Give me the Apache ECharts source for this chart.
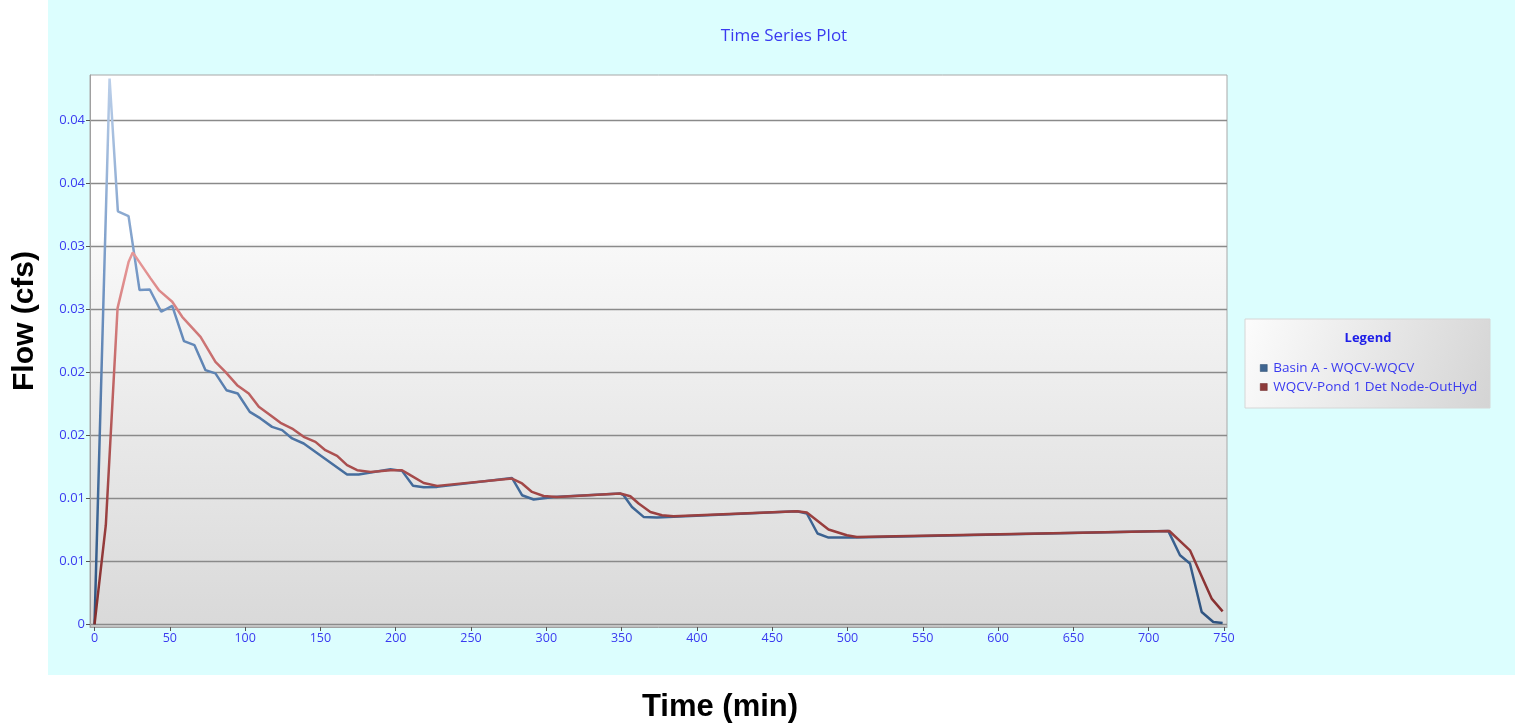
<!DOCTYPE html>
<html>
<head>
<meta charset="utf-8">
<script src="https://cdn.jsdelivr.net/npm/echarts@6/dist/echarts.min.js"></script>
<style>
html,body{margin:0;padding:0;background:#ffffff;}
#chart{width:1520px;height:727px;}
</style>
</head>
<body>
<div id="chart"></div>
<script>
// ---- data ----
const seriesNames = ['Basin A - WQCV-WQCV', 'WQCV-Pond 1 Det Node-OutHyd'];

const basinTime = [0, 10, 15.5, 22.6, 29.9, 36.7, 44.3, 51.6, 59.4, 66.4,
  73.7, 80.3, 87.6, 95.1, 103.1, 110.2, 117.9, 124.6, 131.2, 138.9,
  167.7, 175.4, 196.5, 204.2, 211.5, 218.6, 227.5, 277.2, 283.9, 291.6,
  304.9, 349.1, 351.3, 356.9, 364.6, 373.5, 466.4, 473.0, 480.1, 487.4,
  504.0, 713.0, 720.8, 727.4, 735.2, 742.9, 749.1];
const basinFlow = [0, 0.04329, 0.03276, 0.03238, 0.02651, 0.02656, 0.02479, 0.02526, 0.02246, 0.02214,
  0.02016, 0.01990, 0.01857, 0.01831, 0.01685, 0.01633, 0.01566, 0.01540, 0.01474, 0.01434,
  0.01189, 0.01189, 0.01229, 0.01217, 0.01099, 0.01087, 0.01090, 0.01161, 0.01024, 0.00990,
  0.01010, 0.01037, 0.01024, 0.00931, 0.00852, 0.00847, 0.00897, 0.00879, 0.00720, 0.00688,
  0.00688, 0.00741, 0.00548, 0.00482, 0.00098, 0.00018, 0.00010];

const pondTime = [0, 7.5, 15.3, 22.6, 25.4, 37.2, 42.7, 51.6, 58.2, 70.4,
  80.3, 86.9, 94.7, 102.4, 109.1, 116.8, 123.5, 131.2, 138.9, 146.7,
  153.3, 161.1, 167.7, 174.4, 183.2, 196.5, 204.2, 209.7, 218.6, 227.5,
  277.2, 283.9, 290.5, 298.2, 307.1, 349.1, 355.8, 361.3, 369.1, 376.8,
  384.5, 466.4, 473.0, 487.4, 499.6, 506.2, 713.7, 727.4, 741.8, 749.1];
const pondFlow = [0, 0.00786, 0.02508, 0.02873, 0.02950, 0.02744, 0.02651, 0.02558, 0.02439, 0.02280,
  0.02082, 0.02002, 0.01897, 0.01831, 0.01725, 0.01659, 0.01598, 0.01553, 0.01487, 0.01447,
  0.01381, 0.01336, 0.01262, 0.01222, 0.01209, 0.01222, 0.01222, 0.01183, 0.01121, 0.01098,
  0.01156, 0.01117, 0.01050, 0.01018, 0.01010, 0.01037, 0.01016, 0.00958, 0.00891, 0.00865,
  0.00857, 0.00897, 0.00887, 0.00752, 0.00706, 0.00693, 0.00740, 0.00587, 0.00204, 0.00103];

const xTicks = [0, 50, 100, 150, 200, 250, 300, 350, 400, 450, 500, 550, 600, 650, 700, 750];
const yTicks = [0, 0.005, 0.01, 0.015, 0.02, 0.025, 0.03, 0.035, 0.04];
const yTickLabels = ['0', '0.01', '0.01', '0.02', '0.02', '0.03', '0.03', '0.04', '0.04'];

const titleText = 'Time Series Plot';
const xTitle = 'Time (min)';
const yTitle = 'Flow (cfs)';
const legendTitle = 'Legend';

// ---- chart ----
const chart = echarts.init(document.getElementById('chart'), null, {renderer: 'canvas'});
const G = echarts.graphic;
const blueLine = new G.LinearGradient(0, 75, 0, 624, [
  {offset: 0, color: '#bcd0ea'}, {offset: 0.4, color: '#6f93c2'},
  {offset: 0.75, color: '#426a9a'}, {offset: 1, color: '#2e5380'}], true);
const redLine = new G.LinearGradient(0, 75, 0, 624, [
  {offset: 0, color: '#f5b5b5'}, {offset: 0.35, color: '#e49494'},
  {offset: 0.55, color: '#c26666'}, {offset: 0.8, color: '#9a4040'}, {offset: 1, color: '#842e2e'}], true);

const labelColor = '#3a3af0';
const zip = (a, b) => a.map((t, i) => [t, b[i]]);

chart.setOption({
  backgroundColor: '#ffffff',
  animation: false,
  graphic: [
    {type: 'rect', z: -10, silent: true, shape: {x: 48, y: 0, width: 1467, height: 675}, style: {fill: '#dcfefe'}},
    {type: 'text', z: 2, silent: true, x: 784, y: 36,
      style: {text: titleText, fill: labelColor, font: '17px "Open Sans"', align: 'center', verticalAlign: 'middle'}},
    {type: 'rect', z: 1, silent: true, shape: {x: 1245, y: 319, width: 245, height: 89},
      style: {fill: new G.LinearGradient(0, 0, 1, 1, [{offset: 0, color: '#fcfcfc'}, {offset: 1, color: '#d4d4d4'}]), stroke: '#d6d6d6', lineWidth: 1}},
    {type: 'text', z: 2, silent: true, x: 1368, y: 338,
      style: {text: legendTitle, fill: '#2020e8', font: 'bold 13px "Open Sans"', align: 'center', verticalAlign: 'middle'}},
    {type: 'text', z: 2, silent: true, x: 720, y: 707,
      style: {text: xTitle, fill: '#000000', font: 'bold 31px "Liberation Sans"', align: 'center', verticalAlign: 'middle'}},
    {type: 'text', z: 2, silent: true, x: 25, y: 321, rotation: Math.PI / 2,
      style: {text: yTitle, fill: '#000000', font: 'bold 30px "Liberation Sans"', align: 'center', verticalAlign: 'middle'}}
  ],
  legend: {
    orient: 'vertical', left: 1260, top: 361, z: 3, padding: 0,
    itemWidth: 7, itemHeight: 7, itemGap: 5, icon: 'rect',
    textStyle: {color: labelColor, fontSize: 13.5, fontFamily: 'Open Sans', lineHeight: 13, padding: [0, 0, 0, 1]},
    data: [
      {name: seriesNames[0], itemStyle: {color: '#3f6590', borderColor: '#2b4a6e', borderWidth: 0.5}},
      {name: seriesNames[1], itemStyle: {color: '#8c3a3a', borderColor: '#6a2525', borderWidth: 0.5}}
    ]
  },
  grid: {
    left: 90, right: 293, top: 75, bottom: 100, show: true,
    borderColor: '#a8a8a8', borderWidth: 1,
    backgroundColor: new G.LinearGradient(0, 0, 0, 1, [
      {offset: 0, color: '#ffffff'}, {offset: 0.3, color: '#ffffff'},
      {offset: 0.31, color: '#f8f8f8'}, {offset: 1, color: '#d9d9d9'}])
  },
  xAxis: {
    type: 'value', min: -3, max: 752,
    axisLine: {show: true, onZero: false, lineStyle: {color: '#a0a0a0', width: 1}},
    axisTick: {show: true, length: 4, customValues: xTicks, lineStyle: {color: '#555555'}},
    axisLabel: {customValues: xTicks, color: labelColor, fontSize: 12.5, fontFamily: 'Open Sans', margin: 5},
    splitLine: {show: false}
  },
  yAxis: {
    type: 'value', min: -0.000214, max: 0.04357,
    axisLine: {show: true, onZero: false, lineStyle: {color: '#a0a0a0', width: 1}},
    axisTick: {show: true, length: 4, customValues: yTicks, lineStyle: {color: '#555555'}},
    axisLabel: {customValues: yTicks, color: labelColor, fontSize: 13, fontFamily: 'Open Sans', margin: 5,
      formatter: v => yTickLabels[Math.round(v / 0.005)]},
    splitLine: {show: true, lineStyle: {color: '#8a8a8a', width: 1.3}}
  },
  series: [
    {name: seriesNames[0], type: 'line', showSymbol: false, data: zip(basinTime, basinFlow),
      itemStyle: {color: '#3f6590'}, lineStyle: {color: blueLine, width: 2.5}, z: 2},
    {name: seriesNames[1], type: 'line', showSymbol: false, data: zip(pondTime, pondFlow),
      itemStyle: {color: '#8c3a3a'}, lineStyle: {color: redLine, width: 2.5}, z: 3}
  ]
});
</script>
</body>
</html>
